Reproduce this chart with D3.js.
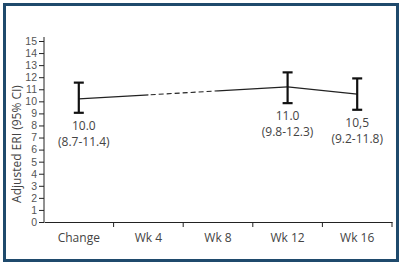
<!DOCTYPE html>
<html>
<head>
<meta charset="utf-8">
<script src="https://cdn.jsdelivr.net/npm/d3@7"></script>
<style>
  body { margin: 0; background: #fff; }
  svg text { font-family: "Open Sans", "Noto Sans", sans-serif; }
</style>
</head>
<body>
<div id="chart"></div>
<script>
// data
const categories = ["Change", "Wk 4", "Wk 8", "Wk 12", "Wk 16"];
const measured = ["Change", "Wk 12", "Wk 16"];
const means = [10.2, 11.2, 10.6];
const lower = [9.05, 9.85, 9.3];
const upper = [11.55, 12.4, 11.9];
const valueLabels = ["10.0", "11.0", "10,5"];
const ciLabels = ["(8.7-11.4)", "(9.8-12.3)", "(9.2-11.8)"];
const yTicks = d3.range(0, 16);
const dashedFrom = "Wk 4";
const dashedTo = "Wk 8";

const W = 402, H = 265;
const svg = d3.select("#chart").append("svg")
  .attr("width", W).attr("height", H);

// frame
svg.append("rect")
  .attr("x", 4.5).attr("y", 4.5)
  .attr("width", 393).attr("height", 256)
  .attr("fill", "#fff")
  .attr("stroke", "#1f4a6c")
  .attr("stroke-width", 3);

const x = d3.scaleBand().domain(categories).range([44, 392]);
const y = d3.scaleLinear().domain([0, 15]).range([222, 41]);
const cx = (c) => x(c) + x.bandwidth() / 2;

// y axis
const yAxis = svg.append("g")
  .attr("transform", "translate(44,0)")
  .call(d3.axisLeft(y).tickValues(yTicks).tickSize(5).tickSizeOuter(0).tickPadding(2));
yAxis.select(".domain").attr("d", `M0,${y(0)}V${y(15) - 4}`);
yAxis.selectAll("line, .domain").attr("stroke", "#222");
yAxis.selectAll("text")
  .attr("fill", "#555")
  .style("font-family", "'Liberation Sans', Arial, sans-serif")
  .style("font-size", "10.5px");

// x axis
const xAxis = svg.append("g")
  .attr("transform", `translate(0,${y(0)})`)
  .call(d3.axisBottom(x).tickSize(0).tickSizeOuter(0).tickPadding(11));
xAxis.select(".domain").attr("stroke", "#222");
xAxis.selectAll("text").attr("fill", "#444").style("font-size", "12px");
xAxis.selectAll(".sep")
  .data(categories)
  .join("line")
  .attr("class", "sep")
  .attr("x1", (d) => x(d) + x.step())
  .attr("x2", (d) => x(d) + x.step())
  .attr("y1", 0).attr("y2", 5)
  .attr("stroke", "#222");

// y axis title
svg.append("text")
  .attr("transform", "translate(21,144) rotate(-90)")
  .attr("text-anchor", "middle")
  .attr("fill", "#444")
  .style("font-size", "12px")
  .text("Adjusted ERI (95% CI)");

const pts = measured.map((c, i) => ({ c, m: means[i], lo: lower[i], hi: upper[i] }));

// clip regions for the dashed part of the first segment
const defs = svg.append("defs");
defs.append("clipPath").attr("id", "solidA").append("rect")
  .attr("x", 0).attr("y", 0).attr("width", cx(dashedFrom)).attr("height", H);
defs.append("clipPath").attr("id", "solidB").append("rect")
  .attr("x", cx(dashedTo)).attr("y", 0).attr("width", W).attr("height", H);
defs.append("clipPath").attr("id", "dash").append("rect")
  .attr("x", cx(dashedFrom)).attr("y", 0)
  .attr("width", cx(dashedTo) - cx(dashedFrom)).attr("height", H);

const line = d3.line().x((d) => cx(d.c)).y((d) => y(d.m));
const first = pts.slice(0, 2);
const second = pts.slice(1, 3);

["solidA", "solidB"].forEach((id) => {
  svg.append("path").datum(first)
    .attr("d", line).attr("fill", "none")
    .attr("stroke", "#222").attr("stroke-width", 1.1)
    .attr("clip-path", `url(#${id})`);
});
svg.append("path").datum(first)
  .attr("d", line).attr("fill", "none")
  .attr("stroke", "#222").attr("stroke-width", 1.1)
  .attr("stroke-dasharray", "5,3")
  .attr("clip-path", "url(#dash)");
svg.append("path").datum(second)
  .attr("d", line).attr("fill", "none")
  .attr("stroke", "#222").attr("stroke-width", 1.1);

// error bars
const bars = svg.append("g").selectAll("g").data(pts).join("g");
bars.append("line")
  .attr("x1", (d) => cx(d.c)).attr("x2", (d) => cx(d.c))
  .attr("y1", (d) => y(d.lo)).attr("y2", (d) => y(d.hi))
  .attr("stroke", "#111").attr("stroke-width", 2.2);
["lo", "hi"].forEach((k) => {
  bars.append("line")
    .attr("x1", (d) => cx(d.c) - 5).attr("x2", (d) => cx(d.c) + 5)
    .attr("y1", (d) => y(d[k])).attr("y2", (d) => y(d[k]))
    .attr("stroke", "#111").attr("stroke-width", 2.2);
});

// value labels
bars.append("text")
  .attr("x", (d, i) => cx(d.c) + (i === 0 ? 5 : 0))
  .attr("y", (d) => y(d.lo) + 17)
  .attr("text-anchor", "middle")
  .attr("fill", "#444")
  .style("font-size", "12px")
  .text((d, i) => valueLabels[i]);
bars.append("text")
  .attr("x", (d, i) => cx(d.c) + (i === 0 ? 5 : 0))
  .attr("y", (d) => y(d.lo) + 33)
  .attr("text-anchor", "middle")
  .attr("fill", "#444")
  .style("font-size", "12px")
  .text((d, i) => ciLabels[i]);
</script>
</body>
</html>
